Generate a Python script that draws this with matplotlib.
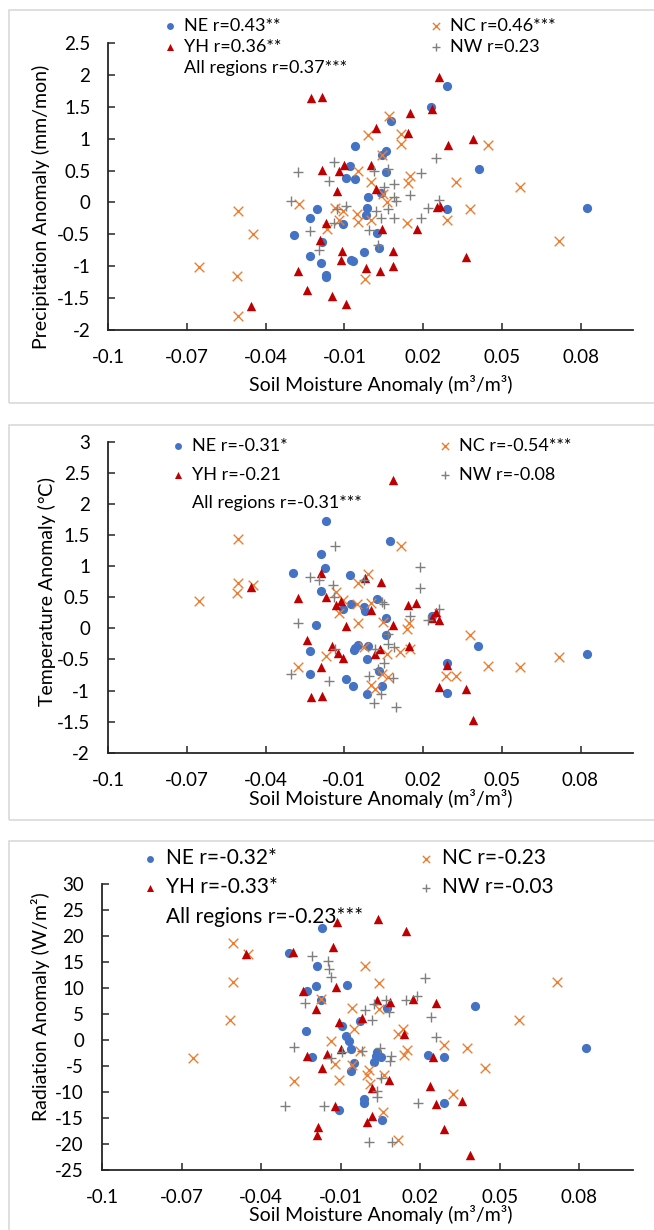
import numpy as np
import matplotlib
matplotlib.use('Agg')
import matplotlib.pyplot as plt
from matplotlib.lines import Line2D
from matplotlib.patches import Rectangle
from matplotlib.ticker import FixedLocator, FuncFormatter

plt.rcParams['font.family'] = ['Lato', 'DejaVu Sans']

W, H = 654, 1230

# ---- data (soil moisture anomaly, variable anomaly) ----
# Precipitation
pr_ne = [(0.0292, 1.83), (0.023, 1.49), (0.0076, 1.28), (-0.0059, 0.88), (0.0059, 0.81),
         (0.0044, 0.75), (-0.0079, 0.57), (0.006, 0.48), (-0.0094, 0.39), (-0.0059, 0.36),
         (0.0411, 0.52), (-0.0011, 0.08), (0.0041, 0.15), (0.0824, -0.09), (0.0289, -0.10),
         (-0.0014, -0.09), (-0.0017, -0.19), (-0.0206, -0.11), (-0.023, -0.24), (-0.0105, -0.34),
         (-0.0294, -0.51), (0.0025, -0.48), (0.0033, -0.71), (-0.0187, -0.62), (-0.023, -0.84),
         (-0.0025, -0.78), (-0.0068, -0.92), (-0.0074, -0.91), (-0.0189, -0.95), (-0.0171, -1.14),
         (-0.0171, -1.17)]
pr_nc = [(0.0068, 1.35), (-0.0011, 1.06), (0.0116, 1.08), (0.0116, 0.91), (0.0446, 0.90),
         (0.0044, 0.75), (-0.0049, 0.50), (0.0148, 0.41), (0.0143, 0.30), (0.0002, 0.32),
         (0.0327, 0.32), (0.0568, 0.24), (0.0048, 0.14), (0.0063, 0.01), (-0.0275, -0.02),
         (-0.0506, -0.14), (0.0379, -0.11), (-0.0135, -0.09), (-0.0105, -0.14), (-0.0051, -0.18),
         (-0.0119, -0.28), (-0.0049, -0.31), (0.0003, -0.28), (0.014, -0.32), (0.0289, -0.28),
         (-0.0168, -0.41), (-0.0448, -0.50), (0.0717, -0.61), (-0.0654, -1.01), (-0.051, -1.16),
         (-0.0022, -1.20), (-0.0506, -1.78)]
pr_yh = [(0.026, 1.96), (-0.0227, 1.63), (-0.0187, 1.65), (0.0148, 1.41), (0.0235, 1.46),
         (0.0019, 1.16), (0.0144, 1.09), (0.039, 1.00), (0.0294, 0.90), (-0.0184, 0.51),
         (-0.0102, 0.58), (-0.0119, 0.49), (0.0003, 0.58), (-0.013, 0.18), (0.0021, 0.21),
         (0.0251, -0.07), (0.0265, -0.06), (-0.017, -0.33), (0.0043, -0.42), (0.0175, -0.42),
         (-0.0192, -0.59), (-0.011, -0.76), (0.0084, -0.76), (-0.0114, -0.91), (0.0363, -0.85),
         (-0.0278, -1.08), (-0.0019, -1.03), (0.0037, -1.08), (0.0084, -0.99), (-0.0241, -1.37),
         (-0.0148, -1.46), (-0.0095, -1.59), (-0.0456, -1.62)]
pr_nw = [(0.0248, 0.70), (-0.014, 0.64), (-0.0278, 0.47), (0.019, 0.46), (0.0013, 0.49),
         (0.0067, 0.52), (-0.016, 0.34), (0.0087, 0.29), (0.0051, 0.24), (0.0151, 0.12),
         (0.0089, 0.08), (-0.0303, 0.02), (0.0098, 0.02), (0.026, 0.04), (0.0219, -0.09),
         (-0.0094, -0.06), (-0.013, -0.11), (0.0019, -0.14), (0.0067, -0.10), (0.0041, -0.24),
         (0.0089, -0.25), (0.019, -0.24), (-0.014, -0.32), (-0.0232, -0.44), (-0.0005, -0.43),
         (-0.0197, -0.74), (0.0027, -0.67)]

# Temperature
tm_ne = [(-0.017, 1.73), (0.0076, 1.40), (-0.0189, 1.19), (-0.0173, 0.97), (-0.0294, 0.89),
         (-0.0078, 0.86), (-0.019, 0.60), (0.0025, 0.47), (-0.0073, 0.39), (-0.0025, 0.35),
         (-0.0105, 0.31), (-0.0021, 0.28), (0.0233, 0.20), (0.006, 0.17), (-0.0206, 0.06),
         (0.006, -0.10), (0.0411, -0.29), (-0.0049, -0.27), (-0.0059, -0.32), (-0.0011, -0.29),
         (-0.0062, -0.35), (-0.023, -0.36), (0.0824, -0.41), (-0.0014, -0.50), (0.0292, -0.56),
         (0.0033, -0.69), (-0.023, -0.73), (-0.0094, -0.82), (-0.0068, -0.93), (0.0044, -0.92),
         (-0.0014, -1.05), (0.029, -1.04)]
tm_nc = [(-0.0506, 1.44), (0.0116, 1.32), (-0.0011, 0.87), (-0.0049, 0.73), (-0.0506, 0.73),
         (-0.051, 0.57), (-0.0448, 0.70), (-0.0654, 0.44), (-0.013, 0.59), (-0.0105, 0.45),
         (-0.0051, 0.39), (0.0002, 0.41), (-0.0119, 0.24), (-0.0049, 0.09), (0.0048, 0.10),
         (0.0148, 0.09), (0.014, -0.01), (0.0379, -0.10), (-0.0024, -0.30), (0.0114, -0.38),
         (0.0151, -0.33), (0.0062, -0.42), (-0.0168, -0.44), (0.0717, -0.46), (-0.0275, -0.62),
         (0.0446, -0.61), (0.0568, -0.63), (0.0289, -0.76), (0.0327, -0.76), (0.0044, -0.74),
         (0.0067, -0.78), (0.0003, -0.91), (0.0019, -0.97)]
tm_yh = [(0.0084, 2.38), (-0.019, 0.89), (-0.0021, 0.81), (0.0041, 0.74), (-0.0456, 0.66),
         (-0.0278, 0.48), (-0.017, 0.51), (0.0144, 0.38), (0.0175, 0.40), (-0.0111, 0.44),
         (-0.0133, 0.38), (0.0003, 0.29), (0.0251, 0.26), (0.0233, 0.16), (0.026, 0.13),
         (-0.0095, 0.04), (0.0084, 0.05), (-0.0241, -0.19), (-0.0148, -0.29), (0.0148, -0.29),
         (-0.0122, -0.39), (0.0037, -0.34), (0.0016, -0.42), (-0.0103, -0.47), (-0.0187, -0.62),
         (0.0292, -0.59), (0.0262, -0.95), (0.0363, -0.98), (-0.0227, -1.10), (-0.0184, -1.09),
         (0.039, -1.47)]
tm_nw = [(-0.0135, 1.32), (0.019, 0.99), (0.019, 0.64), (-0.0232, 0.83), (-0.0197, 0.77),
         (-0.0144, 0.70), (-0.0025, 0.77), (-0.014, 0.50), (0.0044, 0.42), (0.0051, 0.39),
         (0.0151, 0.19), (0.026, 0.31), (0.0219, 0.13), (-0.0278, 0.09), (0.0067, -0.09),
         (0.0067, -0.26), (0.0089, -0.30), (0.0019, -0.33), (-0.0137, -0.34), (0.0051, -0.55),
         (0.0027, -0.65), (-0.0303, -0.74), (-0.0006, -0.76), (-0.016, -0.84), (0.0087, -0.80),
         (0.0041, -1.05), (0.0013, -1.20), (0.0098, -1.26)]

# Radiation
rd_ne = [(-0.0172, 21.5), (-0.0296, 16.8), (-0.0188, 14.2), (-0.0193, 10.3), (-0.0078, 10.5),
         (-0.0229, 9.4), (-0.0175, 7.6), (0.0407, 6.6), (0.0074, 6.2), (-0.0026, 3.6),
         (-0.0094, 2.6), (-0.023, 1.7), (-0.0081, 0.8), (-0.0069, -0.1), (0.0824, -1.5),
         (-0.0062, -1.7), (0.0037, -2.4), (0.0032, -3.1), (0.0052, -3.2), (0.0228, -2.9),
         (0.0289, -3.3), (-0.0207, -3.3), (0.0024, -4.2), (-0.0051, -4.5), (-0.0061, -6.0),
         (-0.0014, -11.3), (-0.0014, -12.1), (0.0288, -12.1), (-0.0108, -13.5), (0.0057, -15.3)]
rd_nc = [(-0.0508, 18.6), (-0.0449, 16.5), (-0.001, 14.2), (-0.0508, 11.2), (0.0043, 11.0),
         (0.0715, 11.2), (-0.0174, 7.9), (-0.0058, 6.2), (0.0043, 5.9), (-0.0516, 3.8),
         (0.0571, 3.8), (-0.0051, 2.1), (0.0115, 1.2), (0.0136, 2.2), (-0.0135, -0.1),
         (0.0288, -1.0), (0.0376, -1.5), (0.015, -1.9), (0.0139, -2.9), (-0.0028, -2.1),
         (-0.0658, -3.5), (-0.012, -4.7), (-0.0056, -4.8), (0.0445, -5.3), (0.0005, -5.8),
         (-0.0001, -6.7), (0.0063, -6.8), (-0.0276, -7.9), (-0.0108, -7.7), (0.001, -8.5),
         (0.0324, -10.4), (0.006, -13.8), (0.0115, -19.2)]
rd_yh = [(0.004, 23.3), (-0.0113, 22.6), (0.0147, 21.0), (-0.0131, 17.9), (-0.0457, 16.5),
         (-0.0279, 16.9), (-0.0243, 9.4), (-0.0117, 10.2), (0.0035, 7.6), (0.0084, 7.4),
         (0.0172, 7.9), (0.026, 7.2), (-0.0194, 5.9), (-0.0021, 4.2), (-0.0105, 3.5),
         (0.014, 1.2), (-0.01, -1.7), (-0.015, -2.7), (-0.0229, -3.1), (0.0247, -3.2),
         (-0.0171, -5.3), (0.0082, -7.7), (0.0018, -9.3), (0.0235, -8.9), (0.0359, -11.7),
         (0.0261, -12.4), (-0.0122, -12.7), (0.0018, -14.6), (-0.0001, -15.8), (-0.0185, -16.8),
         (-0.0188, -18.3), (0.0289, -17.2), (0.0388, -22.2)]
rd_nw = [(-0.0207, 16.2), (-0.0147, 15.2), (-0.0144, 13.7), (-0.0135, 12.2), (0.0217, 11.9),
         (-0.0234, 7.2), (0.0147, 7.6), (0.0187, 8.5), (0.007, 7.6), (0.0027, 6.9),
         (-0.0007, 5.7), (0.0082, 5.3), (0.0241, 4.4), (0.0019, 3.8), (0.026, 0.6),
         (-0.0277, -1.3), (-0.002, -2.1), (0.0048, -1.5), (-0.0095, -2.4), (-0.0135, -3.5),
         (0.0088, -3.0), (0.0084, -4.0), (0.005, -7.4), (0.0037, -9.9), (0.0035, -10.9),
         (0.0191, -12.1), (-0.0309, -12.6), (-0.0163, -12.6), (0.0008, -19.7), (0.0093, -19.7)]

r_labels = {
    'pr': ['NE r=0.43**', 'YH r=0.36**', 'All regions r=0.37***', 'NC r=0.46***', 'NW r=0.23'],
    'tm': ['NE r=-0.31*', 'YH r=-0.21', 'All regions r=-0.31***', 'NC r=-0.54***', 'NW r=-0.08'],
    'rd': ['NE r=-0.32*', 'YH r=-0.33*', 'All regions r=-0.23***', 'NC r=-0.23', 'NW r=-0.03'],
}
y_titles = ['Precipitation Anomaly (mm/mon)', 'Temperature Anomaly (\u2103)', 'Radiation Anomaly (W/m\u00b2)']
x_title = 'Soil Moisture Anomaly (m\u00b3/m\u00b3)'

x_ticks = [-0.1, -0.07, -0.04, -0.01, 0.02, 0.05, 0.08]
y_ticks = [np.arange(-2, 2.51, 0.5), np.arange(-2, 3.01, 0.5), np.arange(-25, 30.1, 5)]
y_lims = [(-2, 2.5), (-2, 3), (-25, 30)]

# colours
C_NE = '#4472C4'
C_NC = '#ED7D31'
C_YH = '#C00000'
C_NW = '#7F7F7F'

# layout in pixels: plot area (left, right, top, bottom), chart box (top, bottom)
panels = [
    dict(ax=(108.4, 633, 43, 330), box=(10, 403), ylab_x=50, ylab_yc=207, xlab_yc=385,
         leg1=(163, 18), leg2=(429, 18), legfs=13, legsp=0.28),
    dict(ax=(108, 633, 441.7, 752.7), box=(425, 820), ylab_x=56, ylab_yc=591, xlab_yc=798,
         leg1=(171, 438), leg2=(438, 438), legfs=13, legsp=0.7),
    dict(ax=(102, 632.5, 884, 1170), box=(841, 1240), ylab_x=50, ylab_yc=1007, xlab_yc=1215,
         leg1=(142, 848), leg2=(418, 848), legfs=15, legsp=0.45),
]

fig = plt.figure(figsize=(W / 100, H / 100), dpi=100)

def fmt(v, pos):
    return '%g' % round(v, 4)

datasets = [(pr_ne, pr_nc, pr_yh, pr_nw, 'pr'),
            (tm_ne, tm_nc, tm_yh, tm_nw, 'tm'),
            (rd_ne, rd_nc, rd_yh, rd_nw, 'rd')]

for i, (p, (ne, nc, yh, nw, key)) in enumerate(zip(panels, datasets)):
    l, r, t, b = p['ax']
    # chart area border
    bt, bb = p['box']
    fig.add_artist(Rectangle((9 / W, 1 - bb / H), (W + 10) / W, (bb - bt) / H,
                             transform=fig.transFigure, fill=False,
                             edgecolor='#D9D9D9', linewidth=1.2))
    ax = fig.add_axes([l / W, 1 - b / H, (r - l) / W, (b - t) / H])

    ne, nc, yh, nw = map(np.array, (ne, nc, yh, nw))
    h_ne = ax.scatter(ne[:, 0], ne[:, 1], s=44, marker='o', color=C_NE, linewidths=0)
    h_nc = ax.scatter(nc[:, 0], nc[:, 1], s=48, marker='x', color=C_NC, linewidths=1.0)
    h_yh = ax.scatter(yh[:, 0], yh[:, 1], s=46, marker='^', color=C_YH, linewidths=0)
    h_nw = ax.scatter(nw[:, 0], nw[:, 1], s=58, marker='+', color=C_NW, linewidths=1.0)

    ax.set_xlim(-0.1, 0.1)
    ax.set_ylim(*y_lims[i])
    ax.xaxis.set_major_locator(FixedLocator(x_ticks))
    ax.yaxis.set_major_locator(FixedLocator(y_ticks[i]))
    ax.xaxis.set_major_formatter(FuncFormatter(fmt))
    ax.yaxis.set_major_formatter(FuncFormatter(fmt))
    for s in ['top', 'right']:
        ax.spines[s].set_visible(False)
    for s in ['left', 'bottom']:
        ax.spines[s].set_color('#262626')
        ax.spines[s].set_linewidth(1.3)
    ax.tick_params(axis='both', direction='in', length=5, width=1.1, color='#262626',
                   labelsize=13.5, labelcolor='#000000')
    ax.tick_params(axis='x', pad=14)
    ax.tick_params(axis='y', pad=13)

    ax.set_xlabel(x_title, fontsize=14)
    ax.xaxis.label.set_va('center')
    ax.xaxis.set_label_coords((381 - l) / (r - l), (b - p['xlab_yc']) / (b - t))
    ax.set_ylabel(y_titles[i], fontsize=14)
    ax.yaxis.label.set_va('center')
    ax.yaxis.set_label_coords((p['ylab_x'] - 9 - l) / (r - l), (b - p['ylab_yc']) / (b - t))

    labs = r_labels[key]
    blank = Line2D([], [], linestyle='none')
    leg_kw = dict(loc='upper left', frameon=False, borderpad=0, borderaxespad=0,
                  handlelength=0.8, handletextpad=0.35, labelspacing=p['legsp'],
                  fontsize=p['legfs'], markerscale=0.75, bbox_transform=fig.transFigure)
    x1, y1 = p['leg1']
    leg1 = ax.legend([h_ne, h_yh, blank], labs[:3],
                     bbox_to_anchor=(x1 / W, 1 - y1 / H), **leg_kw)
    ax.add_artist(leg1)
    x2, y2 = p['leg2']
    ax.legend([h_nc, h_nw], [labs[3], labs[4]],
              bbox_to_anchor=(x2 / W, 1 - y2 / H), **leg_kw)

fig.savefig('out.png', dpi=100)
